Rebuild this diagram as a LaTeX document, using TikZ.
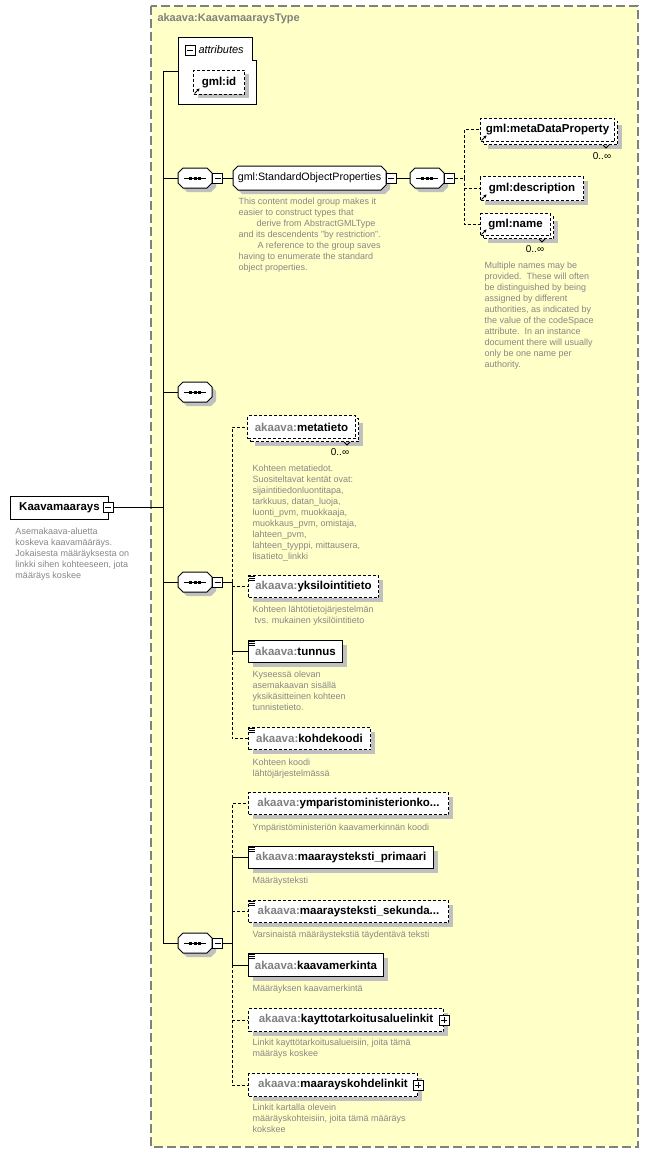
\documentclass[tikz,border=0pt]{standalone}
\usepackage{fontspec}
\setmainfont{Liberation Sans}
\usetikzlibrary{shadows,arrows.meta}
\definecolor{bgy}{RGB}{255,255,200}
\definecolor{shadowc}{RGB}{192,192,192}
\definecolor{dgray}{RGB}{135,135,135}
\definecolor{pgray}{RGB}{128,128,128}
\definecolor{bord}{RGB}{128,128,128}
\newcommand\lab{\bfseries\fontsize{11.5}{13}\selectfont}
\newcommand\dsc{\fontsize{9}{11}\selectfont}
\newcommand\ak[1]{\textcolor{pgray}{akaava:}#1}
\tikzset{
 dsh/.style={dash pattern=on 3pt off 2pt},
 el/.style={draw, fill=white, inner sep=0pt, anchor=north west, font=\lab, drop shadow={shadow xshift=4pt,shadow yshift=-4pt,fill=shadowc,opacity=1}},
 eld/.style={el,dsh},
 elns/.style={draw, fill=white, inner sep=0pt, anchor=north west, font=\lab},
 eldns/.style={elns,dsh},
 desc/.style={anchor=north west, inner sep=0pt, align=left, font=\dsc, text=dgray},
 occ/.style={inner sep=0pt, font=\fontsize{10}{12}\selectfont, text=black},
 minusb/.style={draw, solid, fill=white, minimum size=10pt, inner sep=0pt, path picture={\draw[line width=1pt] ([xshift=2pt]path picture bounding box.west) -- ([xshift=-2pt]path picture bounding box.east);}},
 plusb/.style={draw, solid, fill=white, minimum size=10pt, inner sep=0pt, path picture={\draw[line width=1pt] ([xshift=2pt]path picture bounding box.west) -- ([xshift=-2pt]path picture bounding box.east); \draw[line width=1pt] ([yshift=-2pt]path picture bounding box.north) -- ([yshift=2pt]path picture bounding box.south);}},
}
\newcommand\elnode[7][el]{\node[#1, minimum width={#5-#3}, minimum height={#6-#4}] (#2) at (#3,#4) {#7};}
\newcommand\simpleicon[1]{\foreach \k in {1,3,5} \draw[line width=0.9pt,solid] ([xshift=0.5pt,yshift=-\k pt]#1.north west) -- ++(6,0);}
\newcommand\refic[1]{\draw[line width=1pt,solid,-{Stealth[length=3pt,width=3.5pt]}] ([xshift=1.5pt,yshift=1.5pt]#1.south west) -- ++(5,-5);}
\newcommand\notch[1]{\draw[line width=1pt,solid] ([xshift=-15pt]#1.south east) -- ++(3,3) -- ++(3,-3);}
\newcommand\seqnode[2]{%
\begin{scope}[shift={(#2)}]
 \fill[shadowc,shift={(4,4)}] (5,-10) -- (29,-10) -- (34,-5) -- (34,5) -- (29,10) -- (5,10) -- (0,5) -- (0,-5) -- cycle;
 \draw[fill=white] (5,-10) -- (29,-10) -- (34,-5) -- (34,5) -- (29,10) -- (5,10) -- (0,5) -- (0,-5) -- cycle;
 \draw (6,0) -- (28,0);
 \foreach \d in {12.5,17,21.5} \fill (\d-1.5,-1.5) rectangle (\d+1.5,1.5);
 \node[inner sep=0pt,minimum width=34pt,minimum height=20pt] (#1) at (17,0) {};
\end{scope}}
\begin{document}
\begin{tikzpicture}[x=1pt,y=-1pt,line width=1pt]
\useasboundingbox (0,0) rectangle (649,1153);
\fill[white] (0,0) rectangle (649,1153);
% complex type frame
\draw[draw=bord, dash pattern=on 9pt off 4pt, line width=1.3pt, fill=bgy] (151,6) rectangle (638,1147);
\node[anchor=west, inner sep=0pt, font=\bfseries\fontsize{11}{13}\selectfont, text=pgray] (title) at (157,19) {akaava:KaavamaaraysType};
% root element
\elnode[elns]{kaav}{10}{496}{108}{519}{Kaavamaarays}
\node[minusb] (kaavm) at (108,507.5) {};
\node[desc] (kaavd) at (15,527.5) {Asemakaava-aluetta\\koskeva kaavamääräys.\\Jokaisesta määräyksesta on\\linkki sihen kohteeseen, jota\\määräys koskee};
% attributes
\draw[fill=white] (178,38) -- (252,38) -- (252,61) -- (256,61) -- (256,105) -- (178,105) -- cycle;
\node[minusb] (attrm) at (190,50.5) {};
\node[anchor=west, inner sep=0pt, font=\itshape\fontsize{11}{13}\selectfont] (attrt) at (198,50) {attributes};
\coordinate (attrs) at (178,72);
\elnode[eld]{gmlid}{193}{70}{244}{94}{gml:id}
\refic{gmlid}
% sequences
\seqnode{s1}{178,178}
\node[minusb] (s1m) at (217.5,178) {};
\seqnode{s3}{178,392}
\seqnode{s4}{178,582}
\node[minusb] (s4m) at (217.5,582) {};
\seqnode{s5}{178,943}
\node[minusb] (s5m) at (217.5,943) {};
% group
\begin{scope}[shift={(233,166)}]
 \fill[shadowc,shift={(4,4)}] (5,0) -- (148,0) -- (153,5) -- (153,19) -- (148,24) -- (5,24) -- (0,19) -- (0,5) -- cycle;
 \draw[fill=white] (5,0) -- (148,0) -- (153,5) -- (153,19) -- (148,24) -- (5,24) -- (0,19) -- (0,5) -- cycle;
 \node[inner sep=0pt,minimum width=153pt,minimum height=24pt,font=\fontsize{10.7}{12}\selectfont] (sop) at (76.5,12) {gml:StandardObjectProperties};
\end{scope}
\node[minusb] (sopm) at (391,178) {};
\node[desc] (sopd) at (238,197.5) {This content model group makes it\\easier to construct types that\\\hspace*{18pt}derive from AbstractGMLType\\and its descendents "by restriction".\\\hspace*{19pt}A reference to the group saves\\having to enumerate the standard\\object properties.};
\seqnode{s2}{410,178}
\node[minusb] (s2m) at (449.5,178) {};
% gml children
\elnode[eld]{mdpb}{483}{121}{617}{144}{}
\notch{mdpb}
\elnode[eldns]{mdp}{480}{118}{614}{141}{gml:metaDataProperty}
\refic{mdp}
\node[occ] (mdpo) at (602,156) {0..∞};
\elnode[eld]{gdesc}{480}{176}{583}{200}{gml:description}
\refic{gdesc}
\elnode[eld]{gnameb}{483}{216}{553}{238}{}
\notch{gnameb}
\elnode[eldns]{gname}{480}{213}{550}{235}{gml:name}
\refic{gname}
\node[occ] (gnameo) at (535,249) {0..∞};
\node[desc] (gnamed) at (484,261.5) {Multiple names may be\\provided.\ \ These will often\\be distinguished by being\\assigned by different\\authorities, as indicated by\\the value of the codeSpace\\attribute.\ \ In an instance\\document there will usually\\only be one name per\\authority.};
% second choice block
\elnode[eld]{metab}{250}{418}{358}{441}{}
\notch{metab}
\elnode[eldns]{meta}{247}{415}{355}{438}{\ak{metatieto}}
\node[occ] (metao) at (340,452) {0..∞};
\node[desc] (metad) at (252,464.5) {Kohteen metatiedot.\\Suositeltavat kentät ovat:\\sijaintitiedonluontitapa,\\tarkkuus, datan\_luoja,\\luonti\_pvm, muokkaaja,\\muokkaus\_pvm, omistaja,\\lahteen\_pvm,\\lahteen\_tyyppi, mittausera,\\lisatieto\_linkki};
\elnode[eld]{yks}{248}{575}{378}{597}{\ak{yksilointitieto}}
\simpleicon{yks}
\node[desc] (yksd) at (252,605.5) {Kohteen lähtötietojärjestelmän\\\hspace*{2pt}tvs. mukainen yksilöintitieto};
\elnode[el]{tun}{248}{640}{342}{662}{\ak{tunnus}}
\simpleicon{tun}
\node[desc] (tund) at (252,670.5) {Kyseessä olevan\\asemakaavan sisällä\\yksikäsitteinen kohteen\\tunnistetieto.};
\elnode[eld]{koh}{248}{727}{370}{749}{\ak{kohdekoodi}}
\simpleicon{koh}
\node[desc] (kohd) at (252,758.5) {Kohteen koodi\\lähtöjärjestelmässä};
% third block
\elnode[eld]{ymp}{248}{792}{448}{814}{\ak{ymparistoministerionko...}}
\node[desc] (ympd) at (252,823.5) {Ympäristöministeriön kaavamerkinnän koodi};
\elnode[el]{prim}{248}{846}{433}{868}{\ak{maaraysteksti\_primaari}}
\simpleicon{prim}
\node[desc] (primd) at (252,876.5) {Määräysteksti};
\elnode[eld]{sek}{248}{900}{448}{922}{\ak{maaraysteksti\_sekunda...}}
\simpleicon{sek}
\node[desc] (sekd) at (252,930.5) {Varsinaistä määräystekstiä täydentävä teksti};
\elnode[el]{kmerk}{248}{953}{383}{976}{\ak{kaavamerkinta}}
\simpleicon{kmerk}
\node[desc] (kmerkd) at (252,984.5) {Määräyksen kaavamerkintä};
\elnode[eld]{kay}{248}{1008}{443}{1031}{\ak{kayttotarkoitusaluelinkit}\hspace{10pt}}
\node[plusb] (kayp) at (kay.east) {};
\node[desc] (kayd) at (252,1038.5) {Linkit kayttötarkoitusalueisiin, joita tämä\\määräys koskee};
\elnode[eld]{mkl}{248}{1073}{417}{1096}{\ak{maarayskohdelinkit}\hspace{10pt}}
\node[plusb] (mklp) at (mkl.east) {};
\node[desc] (mkld) at (252,1103.5) {Linkit kartalla olevein\\määräyskohteisiin, joita tämä määräys\\kokskee};
% connectors
\coordinate (spT) at (163,72);
\coordinate (spB) at (163,943);
\draw (attrs) -- (spT) -- (spB) -- (s5.west);
\draw (s1.west -| spT) -- (s1.west);
\draw (s3.west -| spT) -- (s3.west);
\draw (s4.west -| spT) -- (s4.west);
\draw (kaavm.east) -- (kaavm.east -| spT);
\draw (s1m.east) -- (sop.west);
\draw (sopm.east) -- (s2.west);
\coordinate (j2) at (464,178);
\draw[dsh] (s2m.east) -- (j2);
\draw[dsh] (j2) |- (mdp.west);
\draw[dsh] (j2) |- (gdesc.west);
\draw[dsh] (j2) |- (gname.west);
\coordinate (j4) at (232,582);
\draw (s4m.east) -- (j4);
\draw[dsh] (j4) |- (meta.west);
\draw[dsh] (yks.west -| j4) -- (yks.west);
\draw (j4) |- (tun.west);
\draw[dsh] (tun.west -| j4) |- (koh.west);
\coordinate (j5) at (232,943);
\draw (s5m.east) -- (j5);
\draw (j5) |- (prim.west);
\draw (j5) |- (kmerk.west);
\draw[dsh] (prim.west -| j5) |- (ymp.west);
\draw[dsh] (sek.west -| j5) -- (sek.west);
\draw[dsh] (kmerk.west -| j5) |- (kay.west);
\draw[dsh] (kmerk.west -| j5) |- (mkl.west);
\end{tikzpicture}
\end{document}
